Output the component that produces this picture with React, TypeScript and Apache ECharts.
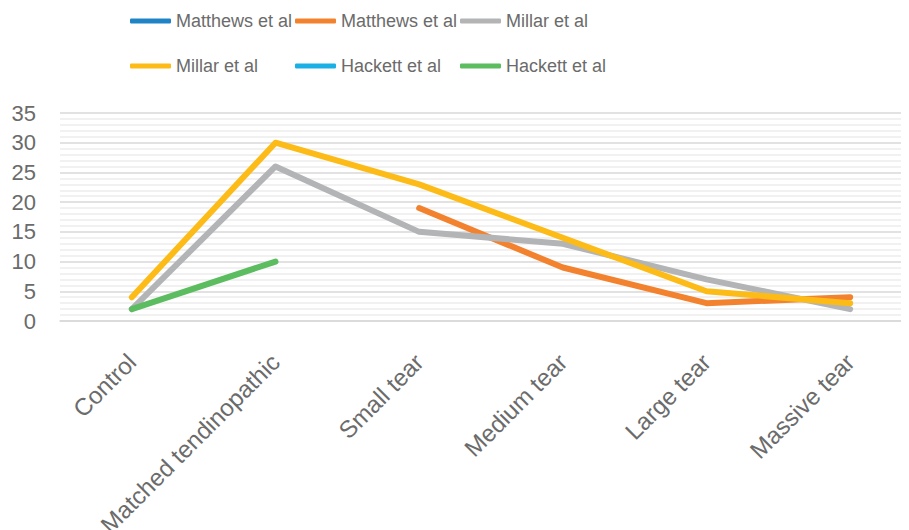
import React, { useEffect, useRef } from "react";
import * as echarts from "echarts";

const categories = [
  "Control",
  "Matched tendinopathic",
  "Small tear",
  "Medium tear",
  "Large tear",
  "Massive tear",
];

const seriesNames = [
  "Matthews et al",
  "Matthews et al",
  "Millar et al",
  "Millar et al",
  "Hackett et al",
  "Hackett et al",
];

const seriesColors = ["#1E84C6", "#F3822F", "#B3B4B6", "#FCBB17", "#1BB0E5", "#5BBC60"];

const matthewsA: (number | null)[] = [null, null, null, null, null, null];
const matthewsB: (number | null)[] = [null, null, 19, 9, 3, 4];
const millarA: (number | null)[] = [2, 26, 15, 13, 7, 2];
const millarB: (number | null)[] = [4, 30, 23, 14, 5, 3];
const hackettA: (number | null)[] = [null, null, null, null, null, null];
const hackettB: (number | null)[] = [2, 10, null, null, null, null];

const seriesValues = [matthewsA, matthewsB, millarA, millarB, hackettA, hackettB];

const yTicks = { min: 0, max: 35, interval: 5 };

// legend slot positions (two rows, three fixed-width columns)
const legendSlots = [
  { left: 130, top: 12 },
  { left: 295, top: 12 },
  { left: 460, top: 12 },
  { left: 130, top: 57 },
  { left: 295, top: 57 },
  { left: 460, top: 57 },
];

const keyOf = (i: number) => `${seriesNames[i]}#${i}`;

const FONT = "'Liberation Sans', Arial, sans-serif";

export default function App() {
  const ref = useRef<HTMLDivElement>(null);

  useEffect(() => {
    if (!ref.current) return;
    const chart = echarts.init(ref.current, undefined, { renderer: "svg" });

    const legends = legendSlots.map((slot, i) => ({
      show: true,
      left: slot.left,
      top: slot.top,
      orient: "horizontal" as const,
      padding: 0,
      data: [{ name: keyOf(i), icon: "roundRect" }],
      itemWidth: 41,
      itemHeight: 5,
      itemGap: 0,
      selectedMode: false,
      formatter: (name: string) => name.replace(/#\d+$/, ""),
      textStyle: {
        fontFamily: FONT,
        fontSize: 18,
        color: "#6B6B6B",
      },
    }));

    chart.setOption({
      animation: false,
      backgroundColor: "#ffffff",
      legend: legends,
      grid: {
        left: 60,
        top: 113,
        width: 862,
        height: 208,
        containLabel: false,
        outerBoundsMode: "none",
      },
      xAxis: {
        type: "category",
        data: categories,
        boundaryGap: true,
        axisLine: { show: true, lineStyle: { color: "#D9D9D9", width: 1.5 } },
        axisTick: { show: false },
        axisLabel: {
          rotate: 45,
          interval: 0,
          margin: 37,
          fontFamily: FONT,
          fontSize: 24,
          color: "#6B6B6B",
        },
      },
      yAxis: {
        type: "value",
        min: yTicks.min,
        max: yTicks.max,
        interval: yTicks.interval,
        axisLine: { show: false },
        axisTick: { show: false },
        axisLabel: {
          margin: 24,
          fontFamily: FONT,
          fontSize: 22,
          color: "#6B6B6B",
        },
        splitLine: { show: true, lineStyle: { color: "#D9D9D9", width: 1.5 } },
        minorTick: { show: false, splitNumber: 5 },
        minorSplitLine: { show: true, lineStyle: { color: "#EDEDED", width: 1.5 } },
      },
      series: seriesValues.map((values, i) => ({
        name: keyOf(i),
        type: "line",
        data: values,
        showSymbol: false,
        symbol: "none",
        connectNulls: false,
        color: seriesColors[i],
        lineStyle: { color: seriesColors[i], width: 6, cap: "round", join: "round" },
      })),
    });

    return () => chart.dispose();
  }, []);

  return <div ref={ref} style={{ width: 909, height: 530, marginLeft: -8, marginTop: -8 }} />;
}
